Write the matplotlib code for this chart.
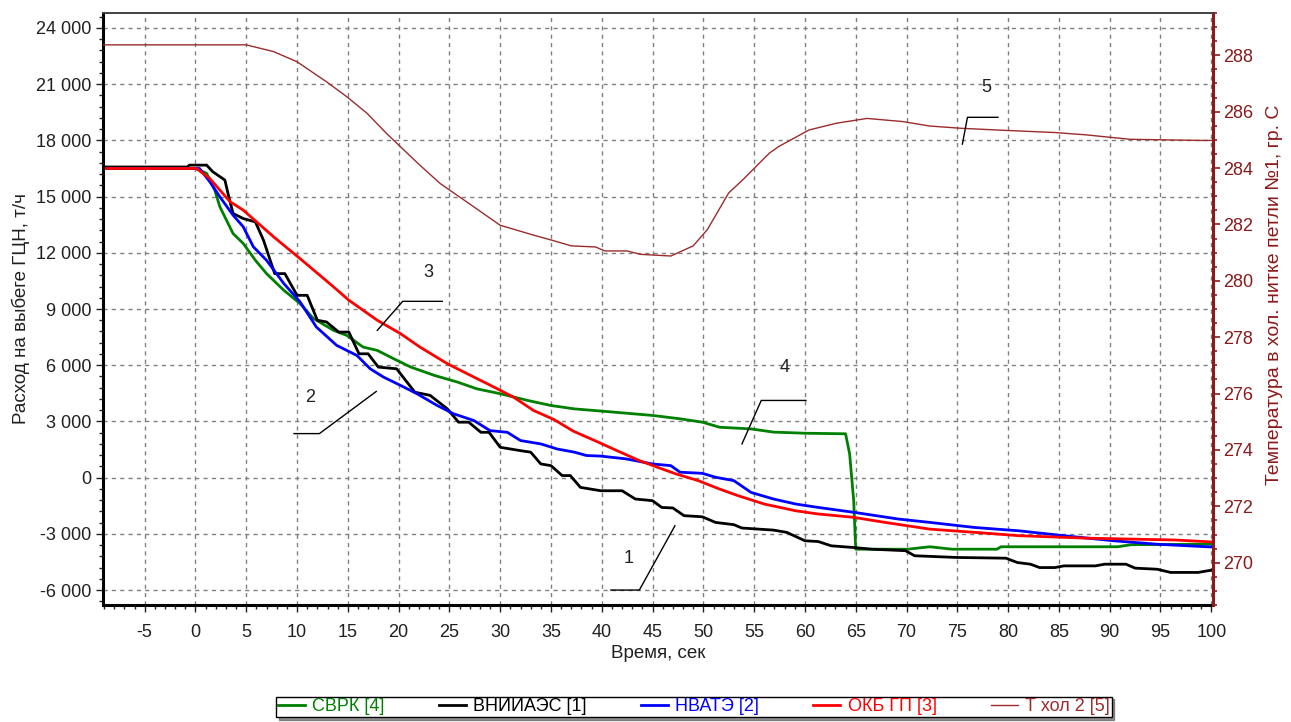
"""Выбег ГЦН: расход (левая ось) и температура в холодной нитке (правая ось)."""

import matplotlib

matplotlib.use("Agg")

import matplotlib.pyplot as plt
from matplotlib.ticker import FuncFormatter, MultipleLocator

plt.rcParams["font.family"] = ["Liberation Sans", "DejaVu Sans"]
plt.rcParams["axes.unicode_minus"] = False

# --- data ------------------------------------------------------------------
t_svrk = [-9.1, 0, 1.1, 1.9, 2.4, 3.7, 4.7, 5.9, 7, 8.7, 10.3, 11.6, 13.6, 14.9,
          16.5, 17.9, 19.5, 21.2, 23.5, 25.8, 27.7, 30, 32.7, 35, 37.3, 40, 45,
          47.7, 49.9, 51.6, 54.7, 56.9, 60, 64, 64.4, 64.8, 65, 70.1, 72.3,
          74.5, 78.9, 79.3, 90.8, 92.1, 100]
g_svrk = [16500, 16500, 16240, 15350, 14460, 13030, 12500, 11600, 10890, 10000,
          9290, 8500, 7860, 7590, 6970, 6790, 6350, 5900, 5460, 5100, 4740,
          4480, 4120, 3850, 3670, 3550, 3320, 3140, 2960, 2690, 2600, 2430,
          2370, 2340, 1270, -1230, -3820, -3820, -3690, -3820, -3820, -3690,
          -3690, -3580, -3550]

t_vniiaes = [-9.1, -0.8, -0.6, 1.1, 1.7, 2.9, 3.2, 3.7, 4.7, 5.9, 6.7, 7.8, 8.8,
             10, 11, 12, 12.9, 14.1, 15.1, 16.1, 17, 18, 19.8, 21.6, 23.1, 24.8,
             25.9, 26.9, 28.1, 28.9, 30, 32, 33, 34, 35, 36.1, 36.9, 37.9, 38.9,
             39.9, 42, 43.3, 45, 45.9, 47, 48.1, 49.9, 51.2, 53, 53.8, 56.9,
             58.2, 60, 61.3, 62.6, 64.8, 66.6, 69.9, 70.8, 74.9, 79.8, 80.9,
             82.2, 83.1, 84.6, 85.5, 88.6, 89.5, 91.6, 92.5, 94.7, 96, 98.7, 100]
g_vniiaes = [16580, 16580, 16680, 16680, 16330, 15880, 15170, 14100, 13830,
             13650, 12670, 10890, 10890, 9730, 9730, 8400, 8310, 7770, 7770,
             6610, 6610, 5900, 5810, 4560, 4390, 3670, 2960, 2960, 2420, 2420,
             1620, 1440, 1360, 730, 640, 110, 110, -520, -610, -700, -700,
             -1140, -1230, -1590, -1620, -2030, -2090, -2390, -2510, -2690,
             -2800, -2920, -3370, -3410, -3640, -3730, -3820, -3900, -4170,
             -4260, -4300, -4530, -4620, -4800, -4800, -4710, -4710, -4620,
             -4620, -4830, -4890, -5060, -5060, -4940]

t_nvate = [-9.1, 0.4, 1.4, 2.4, 3.7, 4.7, 5.7, 7, 8.7, 10.3, 11.9, 13.9, 15.9,
           17.2, 18.5, 20.2, 21.8, 23.8, 25.4, 27.4, 29, 30.7, 32, 34, 35.6,
           37.3, 38.5, 39.9, 42.4, 45, 46.8, 47.7, 49.9, 51.2, 53, 54.7, 56.9,
           59.1, 61.3, 64.8, 69.2, 72.3, 76.7, 81.1, 85.5, 90.4, 94.8, 100]
g_nvate = [16500, 16500, 15800, 14990, 14010, 13390, 12320, 11600, 10360, 9380,
           8040, 7060, 6520, 5810, 5370, 4920, 4480, 3850, 3410, 3050, 2510,
           2420, 1980, 1800, 1530, 1360, 1180, 1150, 1000, 730, 640, 290, 230,
           20, -160, -790, -1140, -1410, -1590, -1850, -2210, -2390, -2660,
           -2840, -3100, -3370, -3560, -3700]

t_okb = [-9.1, 0.1, 1.4, 3.4, 4.7, 6, 7.7, 10.3, 13.6, 15.1, 17.9, 20.2, 22.1,
         24.8, 27.4, 29.4, 31.3, 33.3, 35.3, 37.2, 39.3, 41.5, 43.7, 45.5, 47.3,
         49.5, 51.6, 53.4, 56, 59.1, 61.3, 64.8, 67.9, 72.3, 76.7, 81.1, 87.7,
         92.1, 96.5, 100]
g_okb = [16500, 16500, 15970, 14730, 14280, 13660, 12850, 11690, 10180, 9470,
         8400, 7680, 6970, 6080, 5370, 4830, 4300, 3580, 3100, 2480, 1980,
         1440, 910, 550, 200, -160, -610, -960, -1410, -1770, -1940, -2120,
         -2390, -2750, -2920, -3100, -3230, -3280, -3330, -3430]

t_thol = [-9.1, 5, 7.7, 10, 12.9, 14.9, 16.9, 18.8, 20.2, 22.1, 24.1, 26.7, 30,
          33.3, 35, 37, 39.4, 40.3, 42.5, 43.8, 46.8, 49, 50.4, 52.5, 53.9,
          56.5, 57.4, 60.4, 63.1, 66.1, 69.6, 72.3, 75.4, 78.9, 84.6, 87.6, 92,
          99, 100]
temp_thol = [288.37, 288.37, 288.13, 287.77, 287.06, 286.53, 285.94, 285.23,
             284.75, 284.1, 283.45, 282.8, 281.97, 281.62, 281.45, 281.24,
             281.2, 281.06, 281.06, 280.94, 280.88, 281.24, 281.82, 283.12,
             283.59, 284.53, 284.76, 285.35, 285.59, 285.76, 285.65, 285.49,
             285.41, 285.35, 285.26, 285.18, 285.02, 284.98, 284.98]

# callouts: label, text position, leader polyline (time, value)
callouts_flow = [
    ("1", (42.6, -4300), [(40.9, -6000), (43.7, -6000), (47.2, -2570)]),
    ("2", (11.3, 4280), [(9.7, 2350), (12.2, 2350), (17.8, 4600)]),
    ("3", (22.9, 10960), [(17.9, 7860), (20.4, 9410), (24.3, 9410)]),
    ("4", (58.0, 5900), [(53.8, 1800), (55.7, 4120), (60.1, 4120)]),
]
callouts_temp = [
    ("5", (77.9, 286.87), [(75.5, 284.85), (76.0, 285.8), (79.0, 285.8)]),
]

MAROON = "#8b1a1a"
DARK = "#202020"

fig = plt.figure(figsize=(12.91, 7.22), dpi=100)
ax = fig.add_axes([0.0798, 0.162, 0.86, 0.82])
ax2 = ax.twinx()

ax.plot(t_svrk, g_svrk, color="#008000", lw=2, label="СВРК [4]")
ax.plot(t_vniiaes, g_vniiaes, color="black", lw=2, label="ВНИИАЭС [1]")
ax.plot(t_nvate, g_nvate, color="#0000ff", lw=2, label="НВАТЭ [2]")
ax.plot(t_okb, g_okb, color="#ff0000", lw=2, label="ОКБ ГП [3]")
ax2.plot(t_thol, temp_thol, color="#9b2c2c", lw=1, label="Т хол 2 [5]")

for label, txt, path in callouts_flow:
    ax.plot(*zip(*path), color="black", lw=1)
    ax.text(*txt, label, fontsize=13, color=DARK, ha="center", va="center")
for label, txt, path in callouts_temp:
    ax2.plot(*zip(*path), color="black", lw=1)
    ax2.text(*txt, label, fontsize=13, color=DARK, ha="center", va="center")

ax.set_xlim(-9.1, 100.2)
ax.set_ylim(-6800, 24800)
ax2.set_ylim(268.5, 289.5)

ax.xaxis.set_major_locator(MultipleLocator(5))
ax.xaxis.set_minor_locator(MultipleLocator(1))
ax.yaxis.set_major_locator(MultipleLocator(3000))
ax.yaxis.set_minor_locator(MultipleLocator(600))
ax2.yaxis.set_major_locator(MultipleLocator(2))
ax2.yaxis.set_minor_locator(MultipleLocator(0.5))
ax.yaxis.set_major_formatter(
    FuncFormatter(lambda v, _: f"{v:,.0f}".replace(",", " ")))

ax.grid(True, which="major", color="#808080", lw=1, linestyle=(0, (3, 3)))

ax.tick_params(which="major", length=5, width=1, labelsize=13,
               colors=DARK, direction="out")
ax.tick_params(which="minor", length=3, width=1, colors=DARK,
               direction="out")
ax.tick_params(axis="x", which="major", pad=9)
ax2.tick_params(which="major", length=5, width=1.2, labelsize=13,
                colors=MAROON, direction="out", pad=2)
ax2.tick_params(which="minor", length=3, width=1.2, colors=MAROON,
                direction="out")

for side in ("left", "bottom"):
    ax.spines[side].set_linewidth(2.2)
    ax.spines[side].set_color("black")
for a in (ax, ax2):
    a.spines["top"].set_linewidth(1.2)
    a.spines["top"].set_color("#404040")
ax2.spines["right"].set_linewidth(2.2)
ax2.spines["right"].set_color(MAROON)
ax2.spines["left"].set_visible(False)
ax2.spines["bottom"].set_visible(False)

ax.set_ylabel("Расход на выбеге ГЦН, т/ч", fontsize=13.5, color=DARK)
ax.yaxis.set_label_coords(-0.066, 0.5)
ax2.set_ylabel("Температура в хол. нитке петли №1, гр. С", fontsize=14,
               color=MAROON)
ax2.yaxis.set_label_coords(1.047, 0.524)
ax.set_xlabel("Время, сек", fontsize=13.5, color=DARK)
ax.xaxis.set_label_coords(0.5, -0.068)

handles = ax.get_lines()[:4] + ax2.get_lines()[:1]
leg = fig.legend(handles=handles, labels=[h.get_label() for h in handles],
                 loc="center", bbox_to_anchor=(0.5376, 0.021), ncol=5,
                 fontsize=13, labelcolor="linecolor", frameon=True,
                 fancybox=False, shadow={"color": "#303030"},
                 handlelength=1.5, handletextpad=0.4, columnspacing=3.0,
                 borderpad=0.1, borderaxespad=0)
leg.get_frame().set_edgecolor("black")
leg.get_frame().set_linewidth(1)

fig.savefig("out.png", dpi=100)
